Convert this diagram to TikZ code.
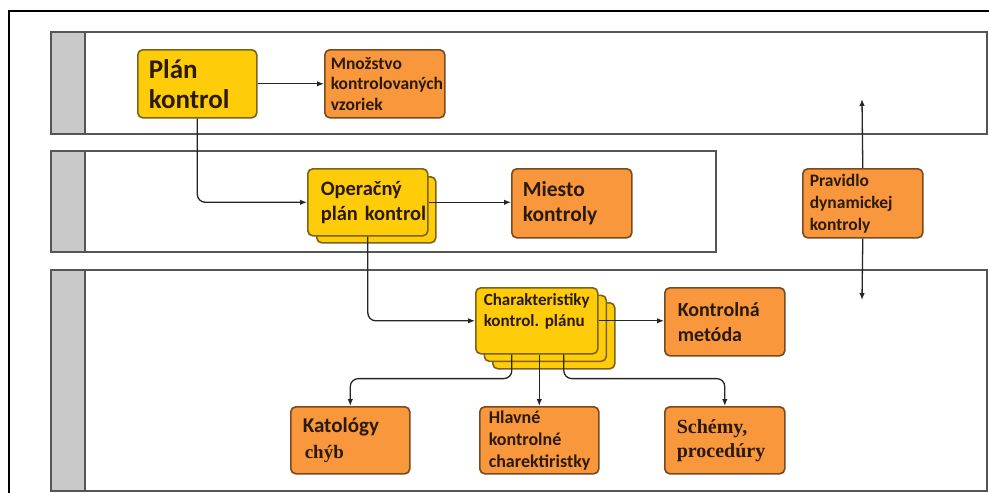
\documentclass[tikz,border=0pt]{standalone}
\usepackage{fontspec}
\setmainfont{Carlito}
\newfontfamily\serifbold{Liberation Serif}
\usetikzlibrary{arrows.meta}
\definecolor{yfill}{HTML}{FFCC0A}
\definecolor{ybord}{HTML}{7A6418}
\definecolor{ofill}{HTML}{F8973C}
\definecolor{obord}{HTML}{7A4A1E}
\definecolor{ink}{HTML}{2A1A08}
\definecolor{lanegray}{HTML}{C9C9C9}
\definecolor{laneline}{HTML}{555555}
\frenchspacing
\begin{document}
\begin{tikzpicture}[x=1pt,y=-1pt,
  card/.style={rounded corners=5pt, line width=1.6pt, anchor=north west,
    align=left, inner ysep=0pt, text=ink, font=\bfseries,
    execute at begin node={\hyphenpenalty=10000\exhyphenpenalty=10000}},
  ybox/.style={card, draw=ybord, fill=yfill},
  obox/.style={card, draw=obord, fill=ofill},
  lane/.style={draw=laneline, line width=1.5pt, fill=white},
  strip/.style={draw=laneline, line width=1.5pt, fill=lanegray},
  arr/.style={draw=black!85, line width=1.3pt, rounded corners=8pt,
    -{Latex[length=7pt,width=5.5pt]}}]
\useasboundingbox (0,0) rectangle (989,493);
\fill[white] (0,0) rectangle (989,493);

% outer frame
\draw[line width=2.2pt] (9,493) -- (9,11) -- (989,11);

% swimlanes
\draw[lane] (51,32) rectangle (987,134);
\draw[strip] (51,32) rectangle (85,134);
\draw[lane] (51,151) rectangle (716,252);
\draw[strip] (51,151) rectangle (85,252);
\draw[lane] (51,270) rectangle (987,491);
\draw[strip] (51,270) rectangle (85,491);

% lane 1
\node[ybox, minimum height=68pt, inner xsep=11pt, text width=97pt,
  font=\bfseries\fontsize{27}{30}\selectfont] (plan) at (137,49) {Plán\\kontrol};
\node[obox, minimum height=68pt, inner xsep=6pt, text width=108pt,
  font=\bfseries\fontsize{17.5}{20.5}\selectfont] (mnoz) at (324,49)
  {Množstvo\\\makebox[108pt][l]{kontrolovaných}\\vzoriek};

% lane 2
\node[ybox, minimum height=66pt, inner xsep=0pt, text width=119pt] (opback) at (316,176) {};
\node[ybox, minimum height=67pt, inner xsep=13pt, text width=94pt,
  font=\bfseries\fontsize{20.5}{25}\selectfont] (op) at (307,168)
  {Operačný\\\makebox[94pt][l]{plán kontrol}};
\node[obox, minimum height=69pt, inner xsep=11pt, text width=98pt,
  font=\bfseries\fontsize{21.5}{25}\selectfont] (miesto) at (511,168) {Miesto\\kontroly};
\node[obox, minimum height=69pt, inner xsep=7pt, text width=106pt,
  font=\bfseries\fontsize{17.5}{22}\selectfont] (prav) at (802,168)
  {Pravidlo\\dynamickej\\kontroly};

% lane 3
\node[ybox, minimum height=66pt, inner xsep=0pt, text width=122pt] (charbackb) at (492,302) {};
\node[ybox, minimum height=66pt, inner xsep=0pt, text width=122pt] (charbacka) at (483.5,294.5) {};
\node[ybox, minimum height=66pt, inner xsep=8pt, text width=106pt,
  font=\bfseries\fontsize{17}{21}\selectfont] (char) at (475,287)
  {\makebox[106pt][l]{Charakteristiky}\\kontrol. plánu\\\mbox{}};
\node[obox, minimum height=68pt, inner xsep=13pt, text width=94pt,
  font=\bfseries\fontsize{20}{25}\selectfont] (kontr) at (664,287) {Kontrolná\\metóda};
\node[obox, minimum height=67pt, inner xsep=12pt, text width=95pt,
  font=\bfseries\fontsize{21}{26}\selectfont] (kat) at (290,406)
  {Katológy\\\hspace*{2pt}{\serifbold\fontsize{19}{26}\selectfont chýb}};
\node[obox, minimum height=67pt, inner xsep=9pt, text width=101pt,
  font=\bfseries\fontsize{18}{22}\selectfont] (hlav) at (479,406)
  {Hlavné\\kontrolné\\\makebox[101pt][l]{charektiristky}};
\node[obox, minimum height=67pt, inner xsep=12pt, text width=96pt,
  font=\serifbold\bfseries\fontsize{20}{24}\selectfont] (schem) at (664,406)
  {Schémy,\\procedúry};

% free ends of the vertical rule arrows
\coordinate (pu) at (862,99);
\coordinate (pd) at (862,300);
% start points under the stacked card
\coordinate (cl) at ([xshift=-25pt]char.south);
\coordinate (cr) at ([xshift=27pt]char.south);

% connectors
\draw[arr] (plan) -- (mnoz);
\draw[arr] (plan.south) |- (op.west);
\draw[arr] (op.east) -- (op.east -| miesto.west);
\draw[arr] (op.south) |- (char.west);
\draw[arr] (char.east) -- (char.east -| kontr.west);
\draw[arr] (cl) -- ++(0,24) -| (kat.north);
\draw[arr] (char.south -| hlav.north) -- (hlav.north);
\draw[arr] (cr) -- ++(0,24) -| (schem.north);
\draw[arr] (prav.north) -- (pu);
\draw[arr] (prav.south) -- (pd);
\end{tikzpicture}
\end{document}
